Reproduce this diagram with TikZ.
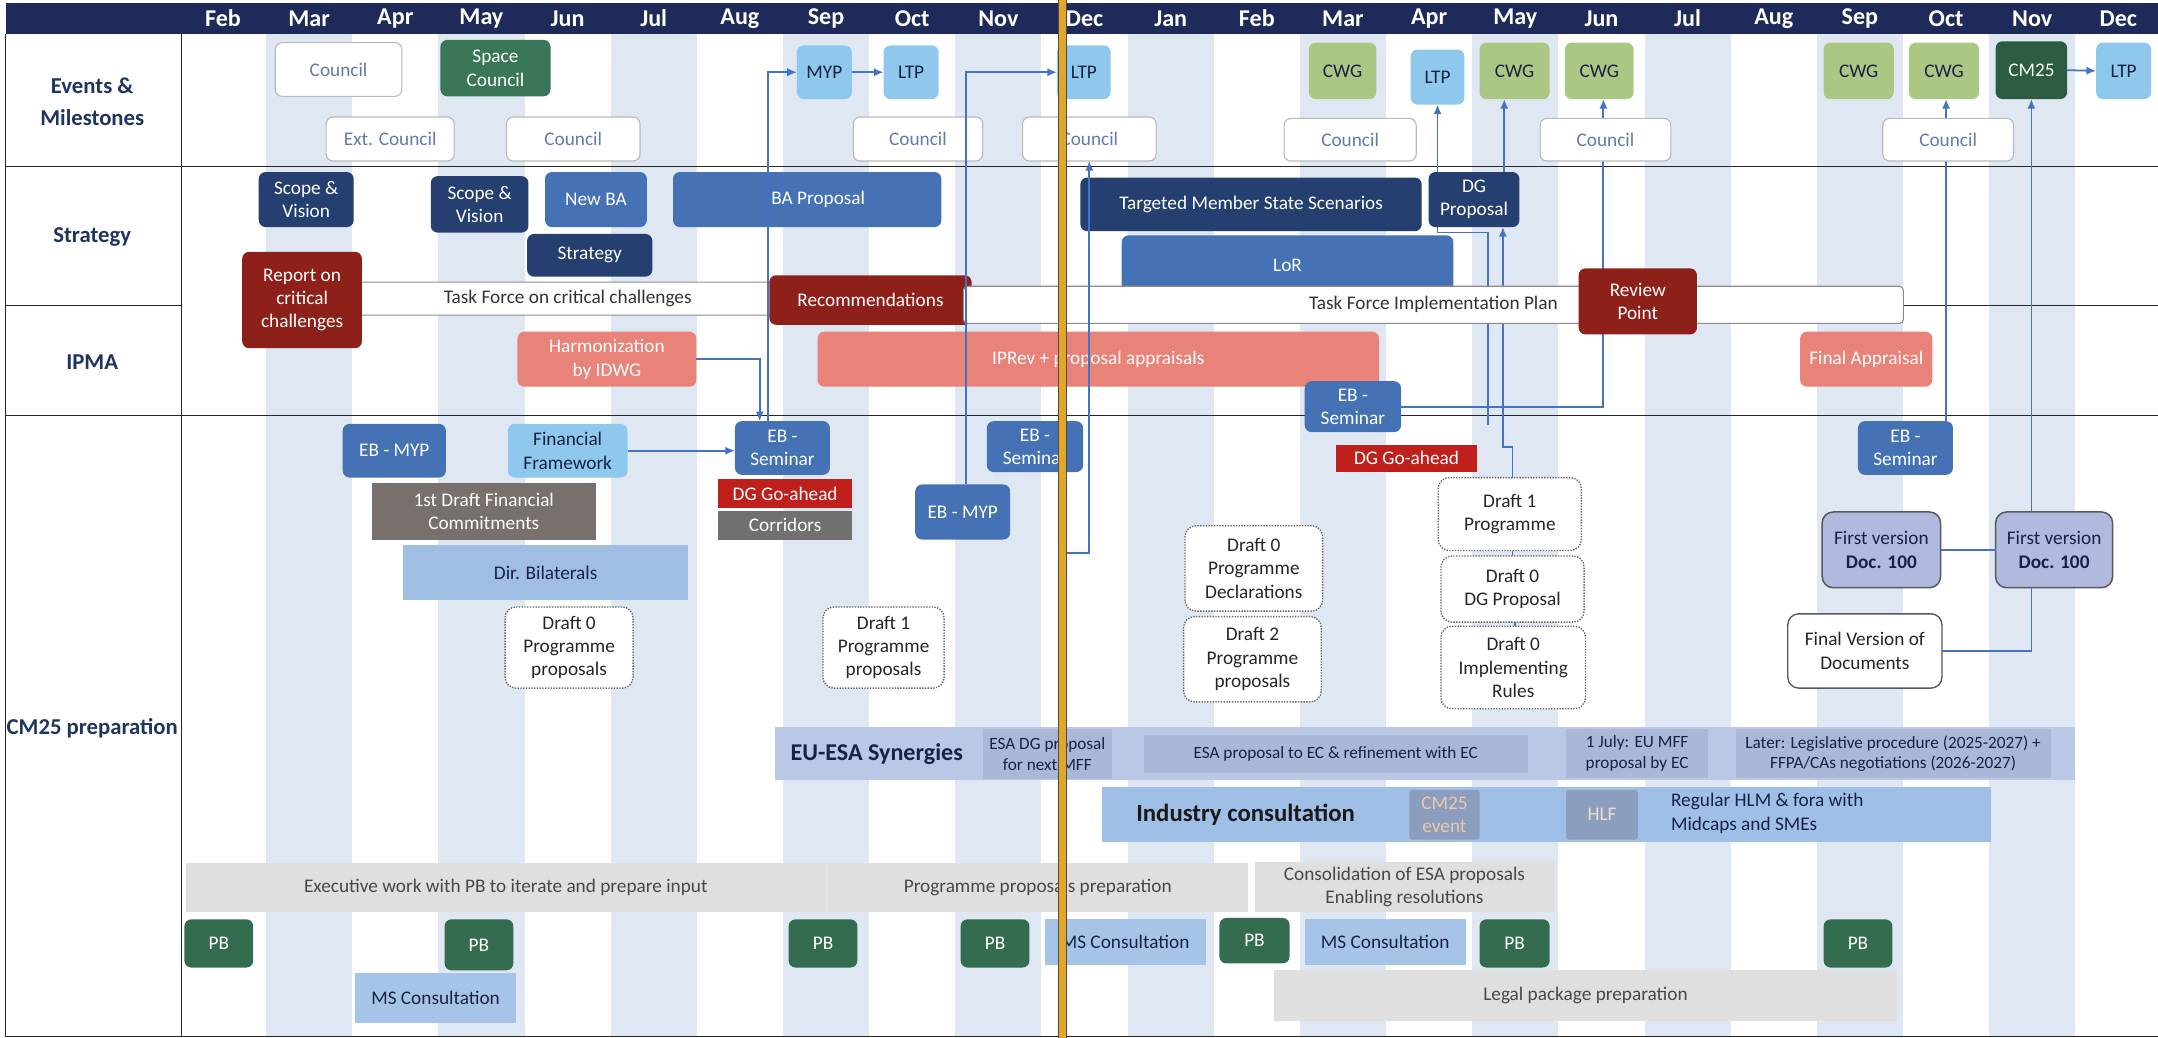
\documentclass[tikz,border=0pt]{standalone}
\usepackage{fontspec}
\setmainfont{Carlito}
\usetikzlibrary{arrows.meta,calc}
\pgfdeclarelayer{bg}\pgfdeclarelayer{under}\pgfdeclarelayer{over}
\pgfsetlayers{bg,under,main,over}
\definecolor{hdr}{RGB}{30,42,90}
\definecolor{lbl}{RGB}{32,52,96}
\definecolor{stripe}{RGB}{222,231,242}
\definecolor{cnavy}{RGB}{37,64,112}
\definecolor{cblue}{RGB}{68,114,180}
\definecolor{clt}{RGB}{142,200,236}
\definecolor{cdark}{RGB}{24,34,70}
\definecolor{cgreen}{RGB}{58,118,88}
\definecolor{cgreenb}{RGB}{44,92,66}
\definecolor{cpb}{RGB}{52,108,80}
\definecolor{ccwg}{RGB}{170,200,132}
\definecolor{cdred}{RGB}{142,32,26}
\definecolor{csal}{RGB}{233,130,120}
\definecolor{cred}{RGB}{192,32,28}
\definecolor{cgry}{RGB}{112,112,112}
\definecolor{cbrn}{RGB}{120,112,108}
\definecolor{cdir}{RGB}{160,190,228}
\definecolor{cms}{RGB}{166,196,232}
\definecolor{cesa}{RGB}{184,200,229}
\definecolor{cesab}{RGB}{168,184,214}
\definecolor{cind}{RGB}{160,191,230}
\definecolor{cev}{RGB}{140,158,190}
\definecolor{cevt}{RGB}{236,200,168}
\definecolor{cgbar}{RGB}{223,223,223}
\definecolor{cgtxt}{RGB}{72,72,72}
\definecolor{cfv}{RGB}{176,186,222}
\definecolor{cbord}{RGB}{185,185,185}
\definecolor{ctxt}{RGB}{100,122,168}
\definecolor{cline}{RGB}{68,114,196}
\definecolor{cgold}{RGB}{226,166,40}
\newcommand\fsz[2]{\fontsize{#1}{#2}\selectfont}
\newcommand\bx[7]{\node[#1,minimum width={(#5)-(#3)},minimum height={(#6)-(#4)}] (#2) at ({((#3)+(#5))/2},{((#4)+(#6))/2}) {#7};}
\tikzset{
  bbase/.style={rounded corners=5pt, inner sep=0pt, outer sep=0pt, align=center, font=\fsz{14}{17}},
  councilb/.style={bbase, fill=white, draw=cbord, line width=0.8pt, text=ctxt},
  navyb/.style={bbase, fill=cnavy, text=white},
  blueb/.style={bbase, fill=cblue, text=white},
  ltb/.style={bbase, fill=clt, text=cdark},
  greenb/.style={bbase, fill=cgreen, text=white},
  pbb/.style={bbase, fill=cpb, text=white},
  cwgb/.style={bbase, fill=ccwg, text=cdark},
  redb/.style={bbase, fill=cdred, text=white},
  salb/.style={bbase, fill=csal, text=white},
  draftb/.style={bbase, rounded corners=8pt, fill=white, draw=black!60, densely dotted, line width=1pt, text=black!85},
  graybar/.style={bbase, sharp corners, fill=cgbar, text=cgtxt},
  msb/.style={bbase, sharp corners, fill=cms, text=cdark},
  tfbar/.style={bbase, rounded corners=3pt, fill=white, draw=black!45, line width=0.8pt, text=black!80},
  fvb/.style={bbase, rounded corners=8pt, fill=cfv, draw=black!65, line width=1.1pt, text=cdark},
  mon/.style={font=\bfseries\fsz{17.5}{20}, text=white, inner sep=0pt},
  rowlbl/.style={font=\bfseries\fsz{16.5}{23}, text=lbl, align=center, inner sep=0pt},
  gridln/.style={draw=black!85, line width=1pt},
  conn/.style={draw=cline, line width=1.3pt},
  arr/.style={conn, -{Latex[length=7pt,width=6pt]}}
}
\begin{document}
\begin{tikzpicture}[x=1pt,y=-1pt]
\useasboundingbox (0,0) rectangle (1568,754);
\begin{pgfonlayer}{bg}
\fill[white] (0,0) rectangle (1568,754);
\foreach \i in {1,3,...,21} \fill[stripe] ({162+62.6*\i-31.3},25) rectangle ({162+62.6*\i+31.3},753);
\fill[hdr] (4,2) rectangle (1568,25);
\draw[gridln] (4,121) -- (1568,121);
\draw[gridln] (4,302) -- (1568,302);
\draw[gridln] (4,222) -- (132,222);
\draw[gridln] (1383,222) -- (1568,222);
\draw[gridln] (132,25) -- (132,753);
\draw[gridln] (4,25) -- (4,753) -- (1568,753);
\end{pgfonlayer}
% header months
\foreach \m [count=\i from 0] in {Feb,Mar,Apr,May,Jun,Jul,Aug,Sep,Oct,Nov,Dec,Jan,Feb,Mar,Apr,May,Jun,Jul,Aug,Sep,Oct,Nov,Dec}
  \node[mon] (mon\i) at ({162+62.6*\i},13.5) {\m};
% row labels
\node[rowlbl] (lev) at (67,74) {Events \&\\Milestones};
\node[rowlbl] (lst) at (67,172) {Strategy};
\node[rowlbl] (lip) at (67,263) {IPMA};
\node[rowlbl] (lcm) at (67,529) {CM25 preparation};
% Events & Milestones
\bx{councilb}{cou1}{200}{31}{292}{70}{Council}
\bx{greenb}{spc}{320}{29}{400}{70}{Space\\Council}
\bx{councilb}{extc}{237}{85}{330}{117}{Ext. Council}
\bx{councilb}{cou2}{368}{85}{465}{117}{Council}
\bx{ltb}{myp}{579}{33}{619}{72}{MYP}
\bx{ltb}{ltpa}{642}{33}{682}{72}{LTP}
\bx{ltb}{ltpb}{768}{33}{807}{72}{LTP}
\bx{councilb}{cou3}{620}{85}{714}{117}{Council}
\bx{councilb}{cou4}{743}{85}{840}{117}{Council}
\bx{cwgb}{cwga}{951}{31}{1000}{72}{CWG}
\bx{ltb}{ltpc}{1025}{36}{1064}{76}{LTP}
\bx{cwgb}{cwgb}{1075}{31}{1126}{72}{CWG}
\bx{cwgb}{cwgc}{1137}{31}{1187}{72}{CWG}
\bx{councilb}{cou5}{933}{86}{1029}{117}{Council}
\bx{councilb}{cou6}{1119}{86}{1214}{117}{Council}
\bx{cwgb}{cwgd}{1325}{31}{1376}{72}{CWG}
\bx{cwgb}{cwge}{1387}{31}{1438}{72}{CWG}
\node[bbase, fill=cgreenb, text=white, minimum width=52, minimum height=42] (cm25) at (1476,51) {CM25};
\bx{ltb}{ltpd}{1523}{31}{1563}{72}{LTP}
\bx{councilb}{cou7}{1368}{86}{1463}{117}{Council}
% Strategy
\bx{navyb}{sva}{188}{125}{257}{165}{Scope \&\\Vision}
\bx{navyb}{svb}{313}{128}{384}{169}{Scope \&\\Vision}
\bx{blueb}{newba}{396}{125}{470}{165}{New BA}
\bx{navyb}{strat}{383}{170}{474}{201}{Strategy}
\bx{blueb}{bap}{489}{125}{684}{165}{\hspace*{16pt}BA Proposal}
\bx{tfbar}{tfa}{250}{205}{565}{229}{\hspace*{10pt}Task Force on critical challenges}
\bx{redb}{rep}{176}{183}{263}{253}{Report on\\critical\\challenges}
\bx{redb}{recs}{559}{200}{706}{236}{Recommendations}
\bx{navyb}{tgt}{785}{129}{1033}{168}{Targeted Member State Scenarios}
\bx{navyb}{dgp}{1038}{125}{1104}{165}{DG\\Proposal}
\bx{blueb}{lor}{815}{171}{1056}{214}{LoR}
\bx{tfbar}{tfb}{700}{208}{1383}{235}{Task Force Implementation Plan}
\bx{redb}{rev}{1147}{195}{1233}{243}{Review\\Point}
% IPMA
\bx{salb}{harm}{376}{241}{506}{281}{Harmonization\\by IDWG}
\bx{salb}{iprev}{594}{241}{1002}{281}{IPRev + proposal appraisals}
\bx{salb}{fapp}{1308}{241}{1404}{281}{Final Appraisal}
\bx{blueb}{ebsc}{948}{277}{1018}{314}{EB -\\Seminar}
% CM25 preparation
\bx{blueb}{ebma}{249}{308}{324}{347}{EB - MYP}
\bx{bbase,fill=clt,text=cdark}{ff}{369}{308}{456}{347}{Financial\\Framework}
\bx{blueb}{ebsa}{534}{306}{603}{345}{EB -\\Seminar}
\bx{bbase,sharp corners,fill=cred,text=white}{dgga}{522}{348}{619}{369}{DG Go-ahead}
\bx{bbase,sharp corners,fill=cgry,text=white}{corr}{522}{371}{619}{392}{Corridors}
\bx{bbase,sharp corners,fill=cbrn,text=white}{fdfc}{270}{351}{433}{392}{1st Draft Financial\\Commitments}
\bx{bbase,sharp corners,fill=cdir,text=cdark}{dirb}{293}{396}{500}{436}{Dir. Bilaterals}
\bx{draftb}{dzpp}{367}{441}{460}{500}{Draft 0\\Programme\\proposals}
\bx{draftb}{dopp}{598}{441}{686}{500}{Draft 1\\Programme\\proposals}
\bx{blueb}{ebmb}{665}{352}{734}{392}{EB - MYP}
\bx{blueb}{ebsb}{717}{306}{787}{343}{EB -\\Seminar}
\bx{bbase,sharp corners,fill=cred,text=white}{dggb}{971}{323}{1073}{343}{DG Go-ahead}
\bx{draftb}{dop}{1045}{347}{1149}{400}{Draft 1\\Programme}
\bx{draftb}{dzdg}{1047}{404}{1151}{452}{Draft 0\\DG Proposal}
\bx{draftb}{dzir}{1047}{455}{1152}{515}{Draft 0\\Implementing\\Rules}
\bx{draftb}{dzpd}{861}{382}{961}{444}{Draft 0\\Programme\\Declarations}
\bx{draftb}{dtpp}{860}{448}{960}{510}{Draft 2\\Programme\\proposals}
\bx{blueb}{ebsd}{1350}{306}{1419}{345}{EB -\\Seminar}
\bx{fvb}{fva}{1324}{372}{1410}{427}{First version\\\textbf{Doc. 100}}
\bx{fvb}{fvbx}{1450}{372}{1535}{427}{First version\\\textbf{Doc. 100}}
\bx{bbase,rounded corners=8pt,fill=white,draw=black!65,line width=1pt,text=black!85}{fvd}{1299}{446}{1411}{500}{Final Version of\\Documents}
% EU-ESA synergies
\bx{bbase,sharp corners,fill=cesa}{esa}{563}{528}{1508}{567}{}
\node[font=\bfseries\fsz{17.5}{20}, text=cdark, inner sep=0pt] (esat) at (637,548) {EU-ESA Synergies};
\bx{bbase,sharp corners,fill=cesab,text=cdark,font=\fsz{12.5}{15}}{esadg}{714}{530}{808}{566}{ESA DG proposal\\for next MFF}
\bx{bbase,sharp corners,fill=cesab,text=cdark,font=\fsz{12.5}{15}}{esap}{831}{534}{1110}{562}{ESA proposal to EC \& refinement with EC}
\bx{bbase,sharp corners,fill=cesab,text=cdark,font=\fsz{12.5}{15}}{jul}{1138}{530}{1241}{565}{1 July: EU MFF\\proposal by EC}
\bx{bbase,sharp corners,fill=cesab,text=cdark,font=\fsz{12.5}{15}}{later}{1261}{530}{1490}{565}{Later: Legislative procedure (2025-2027) +\\FFPA/CAs negotiations (2026-2027)}
% Industry consultation
\bx{bbase,sharp corners,fill=cind}{ind}{801}{572}{1447}{612}{}
\node[font=\bfseries\fsz{18}{21}, text=black!90, inner sep=0pt] (indt) at (905,592) {Industry consultation};
\bx{bbase,rounded corners=2pt,fill=cev,text=cevt}{cmev}{1024}{574}{1075}{610}{CM25\\event}
\bx{bbase,rounded corners=2pt,fill=cev,text=cevt!60!white}{hlf}{1138}{574}{1190}{610}{HLF}
\node[font=\fsz{14}{17}, text=cdark, align=left, anchor=west, inner sep=0pt] (reg) at (1214,591) {Regular HLM \& fora with\\Midcaps and SMEs};
% gray bars
\bx{graybar}{exw}{135}{627}{600}{663}{Executive work with PB to iterate and prepare input}
\bx{graybar}{ppp}{601}{627}{907}{663}{Programme proposals preparation}
\bx{graybar}{cons}{912}{626}{1129}{663}{Consolidation of ESA proposals\\Enabling resolutions}
\bx{graybar}{legal}{926}{705}{1378}{742}{Legal package preparation}
% PB & MS consultation
\bx{pbb}{pba}{134}{668}{184}{703}{PB}
\bx{pbb}{pbbx}{323}{668}{373}{705}{PB}
\bx{pbb}{pbc}{573}{668}{623}{703}{PB}
\bx{pbb}{pbd}{698}{668}{748}{703}{PB}
\bx{pbb}{pbe}{886}{667}{937}{700}{PB}
\bx{pbb}{pbf}{1075}{668}{1126}{703}{PB}
\bx{pbb}{pbg}{1325}{668}{1375}{703}{PB}
\bx{msb}{msa}{258}{707}{375}{743}{MS Consultation}
\bx{msb}{msbx}{759}{668}{876}{701}{MS Consultation}
\bx{msb}{msc}{948}{668}{1065}{701}{MS Consultation}
% helper coordinates
\coordinate (fe1) at (1081,309);
\coordinate (j1) at (791.5,402);
\coordinate (a1) at ([xshift=22pt]dgp.north);
\coordinate (a2) at ([xshift=2pt]dop.north);
\coordinate (a3) at ([xshift=21pt]dgp.south);
\coordinate (a4) at ([xshift=3pt]cwgc.south);
\coordinate (a5) at ([xshift=29.5pt]ebsd.north);
\coordinate (a6) at ([xshift=-16.5pt]ebsa.north);
\coordinate (a7) at ([xshift=-10.5pt]ebsa.north);
\coordinate (a8) at ([xshift=2.5pt]ebmb.north);
\coordinate (a9) at ([xshift=20pt]ebsb.south);
\coordinate (b1) at ([xshift=2pt]dop.south);
\coordinate (b2) at ([xshift=2pt]dzdg.south);
% connectors below boxes
\begin{pgfonlayer}{under}
\draw[arr] (fe1) -- (1081,169) -| (ltpc.south);
\draw[arr] (a1) -- (a1 |- cwgb.south);
\draw[arr] (a2) -- ++(0,-22) -| (a3);
\draw[arr] (ebsc.east) -| (a4);
\draw[arr] (a5) -- (a5 |- cwge.south);
\draw[arr] (fvd.east) -| (cm25.south);
\end{pgfonlayer}
% connectors above boxes
\begin{pgfonlayer}{over}
\draw[arr] (harm.east) -| (a6);
\draw[arr] (a7) |- (myp.west);
\draw[arr] (ff.east) -- (ff.east -| ebsa.west);
\draw[arr] (myp.east) -- (ltpa.west);
\draw[arr] (a8) |- (ltpb.west);
\draw[arr] (a9) |- (j1) -- (cou4.south);
\draw[arr] (cm25.east) -- (ltpd.west);
\draw[conn] (fva.east) -- (fva.east -| fvbx.west);
\draw[conn] (b1) -- (b1 |- dzdg.north);
\draw[conn] (b2) -- (b2 |- dzir.north);
\draw[line width=7pt, draw=black!70] (772,0) -- (772,754);
\draw[line width=4.5pt, draw=cgold] (772,0) -- (772,754);
\end{pgfonlayer}
\end{tikzpicture}
\end{document}
